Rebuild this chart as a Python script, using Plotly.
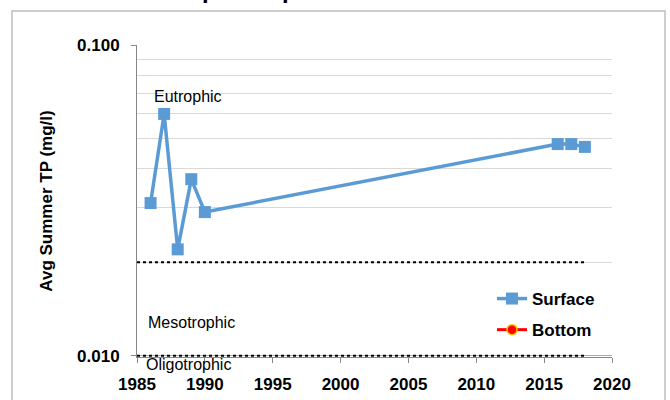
import plotly.graph_objects as go

# Data
years = [1986, 1987, 1988, 1989, 1990, 2016, 2017, 2018]
surface_tp = [0.031, 0.060, 0.022, 0.037, 0.029, 0.048, 0.048, 0.047]
bottom_years = []
bottom_tp = []
threshold_x = [1985, 2018]
meso_eu_threshold = [0.02, 0.02]
oligo_meso_threshold = [0.01, 0.01]
x_ticks = [1985, 1990, 1995, 2000, 2005, 2010, 2015, 2020]
y_ticks = [0.01, 0.1]
y_ticktext = ["0.010", "0.100"]
y_minor = [0.02, 0.03, 0.04, 0.05, 0.06, 0.07, 0.08, 0.09]

FONT = "Liberation Sans"
W, H = 670, 400
L, R, T, B = 137, 58, 45, 43
PW, PH = W - L - R, H - T - B


def px(xp):
    return (xp - L) / PW


def py(yp):
    return (H - B - yp) / PH


fig = go.Figure()

for yv in (meso_eu_threshold, oligo_meso_threshold):
    fig.add_trace(go.Scatter(
        x=threshold_x, y=yv, mode="lines",
        line=dict(color="black", width=2, dash="dot"),
        showlegend=False, hoverinfo="skip"))

fig.add_trace(go.Scatter(
    x=years, y=surface_tp, mode="lines+markers", name="Surface",
    line=dict(color="#5B9BD5", width=3.5),
    marker=dict(symbol="square", size=12, color="#5B9BD5"),
    legendgroup="a"))

fig.add_trace(go.Scatter(
    x=bottom_years if bottom_years else [None], y=bottom_tp if bottom_tp else [None],
    mode="lines+markers", name="Bottom",
    line=dict(color="#FF0000", width=3),
    marker=dict(symbol="circle", size=10, color="#FF0000",
                line=dict(color="#FFC000", width=1.5)),
    legendgroup="b"))

fig.update_layout(
    width=W, height=H,
    margin=dict(l=L, r=R, t=T, b=B, autoexpand=False),
    paper_bgcolor="white", plot_bgcolor="white",
    font=dict(family=FONT, color="black"),
    showlegend=True,
    legend=dict(x=px(492), y=py(281), xanchor="left", yanchor="top",
                font=dict(family=FONT, size=17, color="black", weight="bold"),
                tracegroupgap=6, bgcolor="rgba(0,0,0,0)", traceorder="grouped"),
    xaxis=dict(range=[1985, 2020], tickvals=x_ticks, showgrid=False,
               showline=True, linecolor="#868686", linewidth=1,
               ticks="outside", ticklen=5, tickcolor="#868686",
               ticklabelstandoff=7, automargin=False,
               tickfont=dict(family=FONT, size=17, color="black", weight="bold"),
               zeroline=False),
    yaxis=dict(type="log", range=[-2.004, -1.0], tickvals=y_ticks, ticktext=y_ticktext,
               showgrid=True, gridcolor="#ADADAD", gridwidth=1,
               showline=True, linecolor="#868686", linewidth=1,
               ticks="outside", ticklen=5, tickcolor="#868686",
               ticklabelstandoff=8, automargin=False,
               tickfont=dict(family=FONT, size=17, color="black", weight="bold"),
               minor=dict(tickvals=y_minor, showgrid=True, gridcolor="#D9D9D9",
                          gridwidth=1, ticks=""),
               title=dict(text="Avg Summer TP (mg/l)", standoff=20,
                          font=dict(family=FONT, size=17, color="black", weight="bold")),
               zeroline=False),
    shapes=[dict(type="rect", xref="paper", yref="paper",
                 x0=px(12), x1=px(665), y0=py(11), y1=py(420),
                 line=dict(color="#BFBFBF", width=1.5), fillcolor="rgba(0,0,0,0)",
                 layer="below")],
    annotations=[
        dict(text="Surface and Deep Phosphorus", xref="paper", yref="paper",
             x=px(12), y=py(-10), xanchor="left", yanchor="middle", showarrow=False,
             font=dict(family=FONT, size=24, color="black", weight="bold")),
        dict(text="Eutrophic", xref="paper", yref="paper", x=px(152), y=py(97),
             xanchor="left", yanchor="middle", showarrow=False,
             font=dict(family=FONT, size=16, color="black")),
        dict(text="Mesotrophic", xref="paper", yref="paper", x=px(146), y=py(322),
             xanchor="left", yanchor="middle", showarrow=False,
             font=dict(family=FONT, size=16, color="black")),
        dict(text="Oligotrophic", xref="paper", yref="paper", x=px(144), y=py(364),
             xanchor="left", yanchor="middle", showarrow=False,
             font=dict(family=FONT, size=16, color="black")),
    ],
)

fig.write_html("out.html", config={"displayModeBar": False})

with open("out.html", "r", encoding="utf-8") as f:
    html = f.read()
html = html.replace("<body>", '<body style="margin:0;padding:0;overflow:hidden">', 1)
with open("out.html", "w", encoding="utf-8") as f:
    f.write(html)
